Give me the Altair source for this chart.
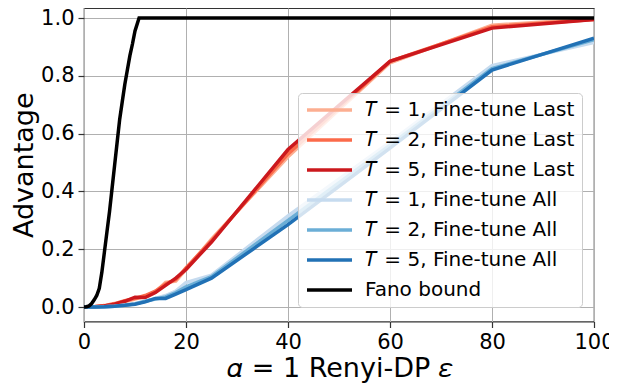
import altair as alt
import pandas as pd

# ---- data ----
eps_model = [0, 2, 4, 6, 8, 10, 12, 14, 16, 18, 20, 25, 40, 60, 80, 100]
t1_last = [0, 0.001, 0.004, 0.010, 0.018, 0.028, 0.038, 0.052, 0.085, 0.090, 0.130, 0.235, 0.520, 0.845, 0.975, 0.997]
t2_last = [0, 0.001, 0.005, 0.012, 0.022, 0.030, 0.040, 0.055, 0.080, 0.095, 0.135, 0.230, 0.530, 0.850, 0.970, 0.995]
t5_last = [0, 0.001, 0.004, 0.010, 0.020, 0.034, 0.033, 0.050, 0.075, 0.100, 0.130, 0.225, 0.545, 0.850, 0.965, 0.995]
t1_all = [0, 0, 0.001, 0.003, 0.007, 0.012, 0.020, 0.030, 0.040, 0.055, 0.085, 0.110, 0.315, 0.570, 0.835, 0.915]
t2_all = [0, 0, 0.001, 0.003, 0.006, 0.011, 0.020, 0.028, 0.035, 0.050, 0.070, 0.105, 0.300, 0.560, 0.825, 0.925]
t5_all = [0, 0, 0.001, 0.003, 0.006, 0.010, 0.018, 0.030, 0.030, 0.045, 0.060, 0.100, 0.285, 0.550, 0.820, 0.930]

eps_fano = [0, 0.5, 1, 1.5, 2, 2.5, 3, 3.5, 4, 4.5, 5, 5.5, 6, 6.5, 7, 7.5, 8, 8.5, 9, 9.5, 10, 10.8, 100]
fano = [0, 0.001, 0.004, 0.012, 0.025, 0.04, 0.065, 0.12, 0.19, 0.26, 0.33, 0.41, 0.49, 0.57, 0.65, 0.71, 0.77, 0.82, 0.87, 0.91, 0.955, 1.0, 1.0]

names = [
    "𝑇 = 1, Fine-tune Last",
    "𝑇 = 2, Fine-tune Last",
    "𝑇 = 5, Fine-tune Last",
    "𝑇 = 1, Fine-tune All",
    "𝑇 = 2, Fine-tune All",
    "𝑇 = 5, Fine-tune All",
    "Fano bound",
]
colors = ["#fcae91", "#fb6a4a", "#cb181d", "#c6dbef", "#6baed6", "#2171b5", "#000000"]

rows = []
series = [t1_last, t2_last, t5_last, t1_all, t2_all, t5_all]
for i, (name, vals) in enumerate(zip(names[:6], series)):
    for e, v in zip(eps_model, vals):
        rows.append({"eps": e, "adv": v, "series": name, "order": i})
for e, v in zip(eps_fano, fano):
    rows.append({"eps": e, "adv": v, "series": names[6], "order": 6})
df = pd.DataFrame(rows)

font = "DejaVu Sans"

chart = alt.Chart(df).mark_line(strokeWidth=3.5, clip=True).encode(
    x=alt.X("eps:Q",
            scale=alt.Scale(domain=[0, 100], nice=False, zero=False),
            axis=alt.Axis(values=[0, 20, 40, 60, 80, 100], format="d",
                          labelFlush=False,
                          title="𝛼 = 1 Renyi-DP 𝜀")),
    y=alt.Y("adv:Q",
            scale=alt.Scale(domain=[-0.05, 1.0346], nice=False, zero=False),
            axis=alt.Axis(values=[0, 0.2, 0.4, 0.6, 0.8, 1.0], format=".1f",
                          title="Advantage")),
    color=alt.Color("series:N",
                    scale=alt.Scale(domain=names, range=colors),
                    legend=alt.Legend(orient="none", legendX=214, legendY=85,
                                      title=None, symbolType="stroke",
                                      symbolSize=2025, symbolStrokeWidth=3.5,
                                      labelFontSize=20, labelFont=font,
                                      labelColor="#000000",
                                      clipHeight=20,
                                      rowPadding=10, padding=7,
                                      fillColor="rgba(255,255,255,0.8)",
                                      strokeColor="#cccccc", cornerRadius=4,
                                      labelOffset=11, labelLimit=400)),
    detail="order:N",
    order="order:Q",
).properties(
    width=510,
    height=313.5,
    autosize=alt.AutoSizeParams(type="none"),
    padding={"left": 76, "top": 0, "right": 15, "bottom": 63.5},
).configure_view(
    stroke="#333333", strokeWidth=1.2
).configure_axis(
    labelFont=font, titleFont=font, labelFontSize=21, titleFontSize=27,
    labelColor="#000000", titleColor="#000000", titleFontWeight="normal",
    grid=True, gridColor="#b0b0b0", gridWidth=1, domain=False,
    tickColor="#333333", tickSize=6, tickWidth=1.2, labelPadding=4,
).configure_axisX(
    titlePadding=3
).configure_axisY(
    titlePadding=2
)

chart.save("out.html", embed_options={"renderer": "svg", "actions": False})
